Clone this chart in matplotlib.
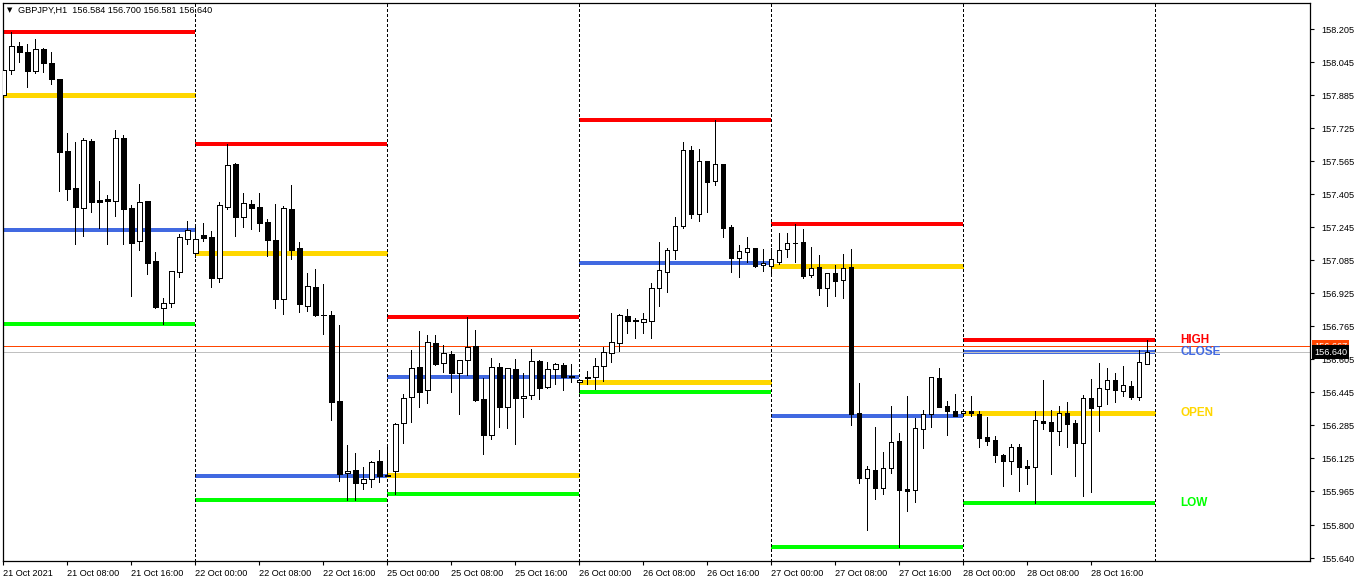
import matplotlib
matplotlib.use("Agg")
import matplotlib.pyplot as plt
import numpy as np

# GBPJPY H1, 21 Oct 2021 00:00 .. 28 Oct 2021 23:00 (24 bars per day)
opens = [
    157.885, 158.005, 158.123, 158.094, 158.003, 158.108, 158.040, 157.963, 157.614, 157.435, 157.339, 157.662,
    157.377, 157.380, 157.373, 157.677, 157.338, 157.176, 157.372, 157.081, 156.852, 156.876, 157.026, 157.186,
    157.118, 157.206, 157.196, 157.000, 157.344, 157.551, 157.293, 157.357, 157.341, 157.268, 157.183, 156.898,
    157.333, 157.144, 156.864, 156.955, 156.819, 156.819, 156.403, 156.052, 156.067, 156.004, 156.026, 156.112,
    156.045, 156.062, 156.295, 156.421, 156.566, 156.454, 156.682, 156.585, 156.629, 156.537, 156.600, 156.668,
    156.411, 156.236, 156.566, 156.372, 156.556, 156.416, 156.430, 156.595, 156.469, 156.556, 156.576, 156.522,
    156.497, 156.519, 156.518, 156.574, 156.637, 156.685, 156.813, 156.794, 156.787, 156.792, 156.952, 157.029,
    157.133, 157.252, 157.617, 157.310, 157.564, 157.470, 157.551, 157.246, 157.097, 157.126, 157.144, 157.060,
    157.058, 157.078, 157.138, 157.168, 157.172, 157.013, 157.050, 156.949, 157.021, 156.990, 157.050, 156.343,
    156.028, 156.067, 155.983, 156.077, 156.207, 155.976, 155.971, 156.268, 156.338, 156.514, 156.378, 156.354,
    156.343, 156.354, 156.340, 156.228, 156.214, 156.141, 156.113, 156.180, 156.088, 156.081, 156.306, 156.300,
    156.256, 156.345, 156.296, 156.201, 156.416, 156.380, 156.462, 156.503, 156.453, 156.477, 156.424, 156.584,
]
highs = [
    158.031, 158.192, 158.142, 158.132, 158.157, 158.113, 158.094, 157.965, 157.701, 157.658, 157.677, 157.672,
    157.469, 157.401, 157.716, 157.691, 157.352, 157.454, 157.374, 157.125, 156.902, 157.033, 157.212, 157.275,
    157.247, 157.264, 157.226, 157.367, 157.646, 157.556, 157.410, 157.377, 157.410, 157.283, 157.357, 157.347,
    157.449, 157.173, 157.021, 157.042, 156.970, 156.837, 156.771, 156.190, 156.151, 156.083, 156.112, 156.165,
    156.181, 156.295, 156.437, 156.650, 156.740, 156.722, 156.722, 156.674, 156.645, 156.602, 156.811, 156.747,
    156.516, 156.611, 156.585, 156.563, 156.605, 156.537, 156.655, 156.600, 156.590, 156.585, 156.585, 156.581,
    156.509, 156.548, 156.611, 156.663, 156.828, 156.824, 156.847, 156.803, 156.828, 156.974, 157.173, 157.144,
    157.294, 157.658, 157.638, 157.624, 157.566, 157.764, 157.553, 157.255, 157.159, 157.197, 157.146, 157.138,
    157.143, 157.215, 157.215, 157.259, 157.236, 157.149, 157.110, 157.023, 157.062, 157.115, 157.139, 156.488,
    156.088, 156.277, 156.154, 156.378, 156.246, 156.427, 156.320, 156.358, 156.519, 156.563, 156.403, 156.437,
    156.356, 156.427, 156.354, 156.324, 156.233, 156.146, 156.196, 156.194, 156.117, 156.356, 156.504, 156.359,
    156.378, 156.398, 156.311, 156.430, 156.509, 156.587, 156.563, 156.538, 156.572, 156.500, 156.650, 156.700,
]
lows = [
    157.826, 157.986, 158.047, 157.925, 157.990, 157.998, 157.940, 157.422, 157.377, 157.165, 157.204, 157.320,
    157.242, 157.165, 157.300, 157.165, 156.913, 157.136, 157.019, 156.855, 156.774, 156.860, 157.005, 157.165,
    157.102, 157.179, 156.956, 156.981, 157.334, 157.202, 157.247, 157.237, 157.228, 157.107, 156.855, 156.826,
    157.092, 156.835, 156.840, 156.815, 156.729, 156.312, 156.017, 155.923, 155.923, 155.978, 155.987, 156.012,
    156.039, 155.951, 156.201, 156.302, 156.375, 156.394, 156.577, 156.545, 156.448, 156.341, 156.529, 156.404,
    156.147, 156.220, 156.278, 156.273, 156.196, 156.327, 156.414, 156.414, 156.467, 156.487, 156.457, 156.496,
    156.446, 156.485, 156.459, 156.501, 156.593, 156.646, 156.734, 156.708, 156.734, 156.708, 156.864, 156.932,
    157.092, 157.242, 157.291, 157.276, 157.320, 157.451, 157.199, 157.028, 157.005, 157.078, 157.053, 157.034,
    157.017, 157.066, 157.102, 157.078, 157.000, 157.003, 156.916, 156.864, 156.913, 156.903, 156.286, 156.007,
    155.779, 155.929, 155.954, 156.055, 155.697, 155.871, 155.915, 156.176, 156.277, 156.372, 156.238, 156.329,
    156.335, 156.330, 156.181, 156.191, 156.109, 155.992, 156.050, 155.968, 156.002, 155.910, 156.267, 156.049,
    156.190, 156.181, 156.041, 155.944, 155.962, 156.259, 156.390, 156.399, 156.427, 156.411, 156.408, 156.581,
]
closes = [
    158.006, 158.123, 158.092, 158.003, 158.107, 158.039, 157.964, 157.611, 157.431, 157.344, 157.667, 157.368,
    157.368, 157.373, 157.677, 157.334, 157.170, 157.365, 157.073, 156.857, 156.876, 157.031, 157.196, 157.230,
    157.186, 157.194, 157.000, 157.351, 157.545, 157.296, 157.361, 157.339, 157.267, 157.184, 156.898, 157.338,
    157.136, 156.871, 156.960, 156.819, 156.817, 156.399, 156.050, 156.062, 156.007, 156.025, 156.107, 156.041,
    156.041, 156.290, 156.416, 156.561, 156.448, 156.687, 156.583, 156.634, 156.540, 156.600, 156.663, 156.408,
    156.236, 156.566, 156.375, 156.561, 156.416, 156.425, 156.595, 156.467, 156.556, 156.581, 156.520, 156.519,
    156.506, 156.513, 156.571, 156.639, 156.687, 156.818, 156.792, 156.792, 156.799, 156.949, 157.036, 157.133,
    157.249, 157.617, 157.310, 157.564, 157.465, 157.550, 157.242, 157.097, 157.128, 157.143, 157.058, 157.071,
    157.089, 157.133, 157.167, 157.166, 157.010, 157.046, 156.952, 157.021, 156.986, 157.046, 156.340, 156.028,
    156.072, 155.983, 156.077, 156.203, 155.971, 155.968, 156.270, 156.338, 156.517, 156.374, 156.356, 156.331,
    156.354, 156.343, 156.222, 156.210, 156.143, 156.113, 156.178, 156.084, 156.080, 156.309, 156.298, 156.259,
    156.343, 156.293, 156.201, 156.416, 156.370, 156.464, 156.503, 156.456, 156.479, 156.424, 156.590, 156.640,
]
bars_per_day = 24
ask = 156.667
bid = 156.640

time_labels = ["21 Oct 2021", "21 Oct 08:00", "21 Oct 16:00", "22 Oct 00:00", "22 Oct 08:00", "22 Oct 16:00",
               "25 Oct 00:00", "25 Oct 08:00", "25 Oct 16:00", "26 Oct 00:00", "26 Oct 08:00", "26 Oct 16:00",
               "27 Oct 00:00", "27 Oct 08:00", "27 Oct 16:00", "28 Oct 00:00", "28 Oct 08:00", "28 Oct 16:00"]
price_labels = ["158.205", "158.045", "157.885", "157.725", "157.565", "157.405", "157.245", "157.085", "156.925",
                "156.765", "156.605", "156.445", "156.285", "156.125", "155.965", "155.800", "155.640"]

plt.rcParams["font.family"] = ["Liberation Sans", "DejaVu Sans"]

W, H = 1362, 581
fig = plt.figure(figsize=(W / 100, H / 100), dpi=100)
ax = fig.add_axes([3 / W, 1 - 560.7 / H, 1307 / W, 557.7 / H])

o = np.array(opens)
hi = np.array(highs)
lo = np.array(lows)
c = np.array(closes)
x = np.arange(len(o))
n_days = len(o) // bars_per_day

# daily high / open / close / low levels
for d in range(n_days):
    s = d * bars_per_day
    e = s + bars_per_day
    ax.hlines(hi[s:e].max(), s, e, color="#FF0000", lw=1.6, zorder=1, antialiased=False)
    ax.hlines(o[s], s, e, color="#FFD700", lw=2.2, zorder=1, antialiased=False)
    ax.hlines(c[e - 1], s, e, color="#4169E1", lw=1.6, zorder=1, antialiased=False)
    ax.hlines(lo[s:e].min(), s, e, color="#00FF00", lw=1.6, zorder=1, antialiased=False)
    ax.axvline(e, color="black", lw=0.72, linestyle=(0, (2.2, 2.2)), zorder=1, antialiased=False)
for d in range(1, n_days):
    ax.axvline(d * bars_per_day, color="black", lw=0.72, linestyle=(0, (2.2, 2.2)), zorder=1, antialiased=False)

# ask / bid lines
ax.axhline(ask, color="#FF4500", lw=0.72, zorder=1.5, antialiased=False)
ax.axhline(bid, color="#C0C0C0", lw=0.72, zorder=1.5, antialiased=False)

# candles
ax.vlines(x, lo, hi, color="black", lw=0.72, zorder=2, antialiased=False)
up = c >= o
body = np.maximum(np.abs(c - o), 0.0015)
ax.bar(x, body, bottom=np.minimum(o, c), width=0.55, color=np.where(up, "white", "black"),
       edgecolor="black", linewidth=0.6, zorder=3, antialiased=False)

# labels for the last day levels
s = (n_days - 1) * bars_per_day
lx = len(o) + 3.1
last_levels = [("HIGH", hi[s:].max(), "#FF0000"), ("CLOSE", c[-1], "#4169E1"),
               ("OPEN", o[s], "#FFD700"), ("LOW", lo[s:].min(), "#00FF00")]
for name, val, col in last_levels:
    ax.text(lx, val, name, color=col, fontsize=8.5, fontweight="bold", va="center", ha="left", zorder=4)

ax.set_xlim(-0.04, 163.34)
ax.set_ylim(155.629, 158.331)

ax.yaxis.tick_right()
ax.set_yticks([float(p) for p in price_labels])
ax.set_yticklabels(price_labels)
ax.tick_params(axis="y", direction="out", length=3, width=0.8, pad=5, labelsize=6.6)
ax.set_xticks(np.arange(0, len(o), 8))
ax.set_xticklabels(time_labels, ha="left")
ax.tick_params(axis="x", direction="out", length=3, width=0.8, pad=3, labelsize=6.6)
for sp in ax.spines.values():
    sp.set_linewidth(0.9)

# price boxes on the axis
tr = ax.get_yaxis_transform()
ax.text(1.003, ask, "%.3f" % ask, transform=tr, color="white", fontsize=6.6, va="center", ha="left",
        bbox=dict(boxstyle="square,pad=0.25", fc="#FF4500", ec="none"), clip_on=False, zorder=5)
ax.text(1.003, bid, "%.3f" % bid, transform=tr, color="white", fontsize=6.6, va="center", ha="left",
        bbox=dict(boxstyle="square,pad=0.25", fc="black", ec="none"), clip_on=False, zorder=6)

# header
fig.text(7 / W, 1 - 10 / H, "\u25BC", fontsize=5, va="center", ha="left", family="DejaVu Sans")
fig.text(18 / W, 1 - 10 / H, "GBPJPY,H1  %.3f %.3f %.3f %.3f" % (o[-1], hi[-1], lo[-1], c[-1]),
         fontsize=6.6, va="center", ha="left")

fig.savefig("out.png", dpi=100)
